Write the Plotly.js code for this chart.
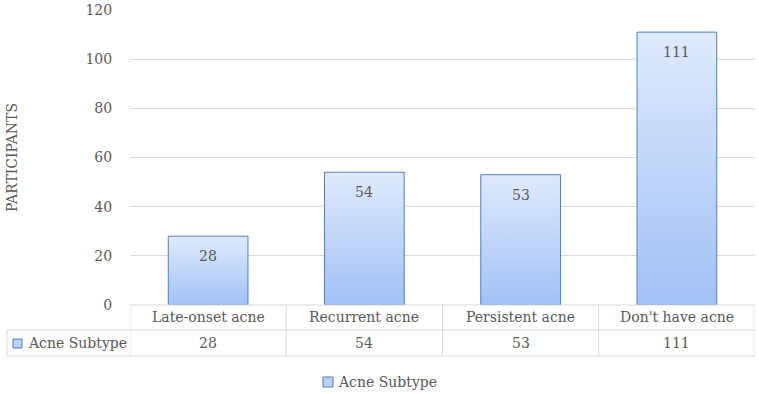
<!DOCTYPE html>
<html><head><meta charset="utf-8">
<script src="https://cdn.plot.ly/plotly-3.0.1.min.js"></script>
<style>body{margin:0;background:#fff}#c{width:759px;height:394px}</style>
</head><body><div id="c"></div>
<script>
const categories = ["Late-onset acne", "Recurrent acne", "Persistent acne", "Don't have acne"];
const values = [28, 54, 53, 111];
const seriesName = "Acne Subtype";
const yTicks = [0, 20, 40, 60, 80, 100, 120];

const FONT = "DejaVu Serif, Liberation Serif, serif";
const TXT = "#595959";
const GRID = "#d9d9d9";
const FS = 14;

// paper-coordinate helpers for the data table under the axis
const rowTop = 0, rowMid = -0.0847, rowBot = -0.1729, leftEdge = -0.1968;

const annotations = [];
const shapes = [];
const f = {family: FONT, size: FS, color: TXT};
values.forEach((v, i) => {
  annotations.push({x: categories[i], y: v, xref: 'x', yref: 'y', text: String(v), showarrow: false,
    xanchor: 'center', yanchor: 'middle', yshift: -20, font: f});
  annotations.push({x: categories[i], y: (rowTop + rowMid) / 2, xref: 'x', yref: 'paper', text: categories[i],
    xanchor: 'center', yanchor: 'middle', showarrow: false, font: f});
  annotations.push({x: categories[i], y: (rowMid + rowBot) / 2, xref: 'x', yref: 'paper', text: String(v),
    xanchor: 'center', yanchor: 'middle', showarrow: false, font: f});
});
annotations.push({x: -0.1664, y: (rowMid + rowBot) / 2, xref: 'paper', yref: 'paper', xanchor: 'left',
  yanchor: 'middle', text: seriesName, showarrow: false, font: f});
// legend text
annotations.push({x: 0.3296, y: -0.261, xref: 'paper', yref: 'paper', xanchor: 'left', yanchor: 'middle',
  text: seriesName, showarrow: false, font: f});

// table lines
const line = {color: GRID, width: 1};
shapes.push({type: 'line', xref: 'paper', yref: 'paper', x0: 0, x1: 1, y0: rowTop, y1: rowTop, line});
shapes.push({type: 'line', xref: 'paper', yref: 'paper', x0: leftEdge, x1: 1, y0: rowMid, y1: rowMid, line});
shapes.push({type: 'line', xref: 'paper', yref: 'paper', x0: leftEdge, x1: 1, y0: rowBot, y1: rowBot, line});
shapes.push({type: 'line', xref: 'paper', yref: 'paper', x0: leftEdge, x1: leftEdge, y0: rowMid, y1: rowBot, line});
for (let k = 0; k <= categories.length; k++) {
  shapes.push({type: 'line', xref: 'x', yref: 'paper', x0: k - 0.5, x1: k - 0.5, y0: rowTop, y1: rowBot, line});
}
// legend keys (table and bottom legend)
const keyStyle = {fillcolor: '#bcd3f7', line: {color: '#4f81bd', width: 1}};
shapes.push(Object.assign({type: 'rect', xref: 'paper', yref: 'paper', x0: -0.1872, x1: -0.1728, y0: -0.1153, y1: -0.1458}, keyStyle));
shapes.push(Object.assign({type: 'rect', xref: 'paper', yref: 'paper', x0: 0.3088, x1: 0.3248, y0: -0.2441, y1: -0.278}, keyStyle));

const trace = {
  type: 'bar', x: categories, y: values, name: seriesName, width: 0.51,
  marker: {color: '#bcd3f7', line: {color: '#4f81bd', width: 1}},
  hoverinfo: 'none', textposition: 'none', showlegend: false
};

const layout = {
  width: 759, height: 394,
  margin: {l: 130, r: 4, t: 10, b: 89, autoexpand: false},
  paper_bgcolor: '#fff', plot_bgcolor: '#fff',
  font: f,
  xaxis: {type: 'category', range: [-0.5, 3.5], showticklabels: false, ticks: '', showgrid: false,
    zeroline: false, showline: false, fixedrange: true},
  yaxis: {range: [0, 120], tickvals: yTicks, ticktext: yTicks.map(String), showgrid: true, gridcolor: GRID,
    gridwidth: 1, zeroline: false, showline: false, ticks: 'outside', ticklen: 14, tickcolor: 'rgba(0,0,0,0)',
    tickfont: f,
    title: {text: 'PARTICIPANTS', font: f, standoff: 64}},
  showlegend: false,
  annotations, shapes
};

Plotly.newPlot('c', [trace], layout, {staticPlot: true}).then(gd => {
  const svg = gd.querySelector('svg.main-svg');
  const ns = 'http://www.w3.org/2000/svg';
  let defs = svg.querySelector('defs');
  const g = document.createElementNS(ns, 'linearGradient');
  g.setAttribute('id', 'barGrad');
  g.setAttribute('x1', '0'); g.setAttribute('y1', '0'); g.setAttribute('x2', '0'); g.setAttribute('y2', '1');
  [['0', '#e0eafd'], ['1', '#a2c1f5']].forEach(([o, c]) => {
    const s = document.createElementNS(ns, 'stop');
    s.setAttribute('offset', o); s.setAttribute('stop-color', c); g.appendChild(s);
  });
  defs.appendChild(g);
  gd.querySelectorAll('.bars .point path').forEach(p => { p.style.fill = 'url(#barGrad)'; });
});
</script></body></html>
